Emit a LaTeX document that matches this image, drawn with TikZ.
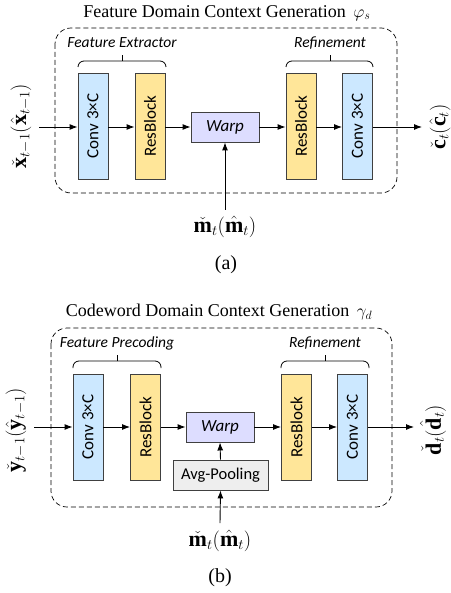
\documentclass[tikz,border=0pt]{standalone}
\usepackage{fontspec}
\usepackage{amsmath}
\setmainfont{Liberation Serif}
\newfontfamily\boxfont{Carlito}
\usetikzlibrary{arrows.meta}
\definecolor{convblue}{HTML}{CCE8FF}
\definecolor{resyellow}{HTML}{FFE699}
\definecolor{warplav}{HTML}{DDDDFF}
\definecolor{poolgray}{HTML}{EEEEEE}
\definecolor{edge}{HTML}{404040}
\tikzset{
  block/.style={draw=edge, line width=0.9pt, minimum width=30pt, minimum height=106pt,
    inner sep=0pt, font=\boxfont\fontsize{17}{19}\selectfont},
  convbox/.style={block, fill=convblue},
  resbox/.style={block, fill=resyellow},
  warpbox/.style={draw=edge, line width=0.9pt, fill=warplav, minimum width=68pt,
    minimum height=30pt, inner sep=0pt, font=\boxfont\itshape\fontsize{17}{19}\selectfont},
  poolbox/.style={draw=edge, line width=0.9pt, fill=poolgray, minimum width=95pt,
    minimum height=30pt, inner sep=0pt, font=\boxfont\fontsize{16.5}{19}\selectfont},
  group/.style={draw, dash pattern=on 5pt off 3pt, line width=0.7pt, rounded corners=16pt},
  grouplabel/.style={font=\boxfont\itshape\fontsize{15.5}{17}\selectfont, inner sep=0pt},
  flow/.style={line width=0.9pt, -{Latex[length=8pt,width=6pt]}},
  brace/.style={line width=0.8pt, rounded corners=6pt},
  title/.style={font=\fontsize{18}{21}\selectfont, inner sep=0pt},
  caption/.style={font=\fontsize{20}{23}\selectfont, inner sep=0pt},
  mathlbl/.style={font=\fontsize{22}{25}\selectfont, inner sep=0pt},
}
\begin{document}
\begin{tikzpicture}[x=1pt, y=-1pt]
\useasboundingbox (0,0) rectangle (450,593);

% ---------- (a) feature domain ----------
\node[title] (ta) at (227,13) {Feature Domain Context Generation \,$\varphi_s$};
\draw[group] (55,28) rectangle (397,193);
\node[grouplabel] (fe) at (122,43) {Feature Extractor};
\node[grouplabel] (ra) at (330,43) {Refinement};
\draw[brace] (78,67) -- (78,61) -- (166,61) -- (166,67);
\draw[line width=0.8pt] (122,61) -- (122,55);
\draw[brace] (286,67) -- (286,61) -- (373,61) -- (373,67);
\draw[line width=0.8pt] (330,61) -- (330,55);

\node[convbox] (ca1) at (93,126) {\rotatebox{90}{Conv 3×C}};
\node[resbox] (ra1) at (150,126) {\rotatebox{90}{ResBlock}};
\node[warpbox] (wa) at (225,127) {Warp};
\node[resbox] (ra2) at (301,126) {\rotatebox{90}{ResBlock}};
\node[convbox] (ca2) at (357.5,126) {\rotatebox{90}{Conv 3×C}};

\coordinate (ina) at (39,127);
\coordinate (outa) at (422,127);
\node[mathlbl, rotate=90] (xl) at (21,126) {$\check{\mathbf{x}}_{t-1}(\hat{\mathbf{x}}_{t-1})$};
\node[mathlbl, rotate=90] (cl) at (440,127) {$\check{\mathbf{c}}_{t}(\hat{\mathbf{c}}_{t})$};
\node[mathlbl] (ma) at (225,227) {$\check{\mathbf{m}}_{t}(\hat{\mathbf{m}}_{t})$};
\coordinate (mina) at (225,210);

\draw[flow] (ina) -- (ca1.west |- ina);
\draw[flow] (ca1.east |- ina) -- (ra1.west |- ina);
\draw[flow] (ra1.east |- ina) -- (wa.west);
\draw[flow] (wa.east) -- (ra2.west |- ina);
\draw[flow] (ra2.east |- ina) -- (ca2.west |- ina);
\draw[flow] (ca2.east |- ina) -- (outa);
\draw[flow] (mina) -- (wa.south);
\node[caption] (capa) at (226,265) {(a)};

% ---------- (b) codeword domain ----------
\node[title] (tb) at (219,312) {Codeword Domain Context Generation \,$\gamma_d$};
\draw[group] (51,328) rectangle (392,507);
\node[grouplabel] (fp) at (117,343) {Feature Precoding};
\node[grouplabel] (rb) at (325,343) {Refinement};
\draw[brace] (73,368) -- (73,361) -- (161,361) -- (161,368);
\draw[line width=0.8pt] (117,361) -- (117,355);
\draw[brace] (281,368) -- (281,361) -- (369,361) -- (369,368);
\draw[line width=0.8pt] (325,361) -- (325,355);

\node[convbox] (cb1) at (88,427) {\rotatebox{90}{Conv 3×C}};
\node[resbox] (rb1) at (145.5,427) {\rotatebox{90}{ResBlock}};
\node[warpbox] (wb) at (220,427) {Warp};
\node[poolbox] (pb) at (220.5,475) {Avg-Pooling};
\node[resbox] (rb2) at (296.5,427) {\rotatebox{90}{ResBlock}};
\node[convbox] (cb2) at (352.5,427) {\rotatebox{90}{Conv 3×C}};

\coordinate (inb) at (34,427);
\coordinate (outb) at (414,427);
\node[mathlbl, rotate=90] (yl) at (16,430) {$\check{\mathbf{y}}_{t-1}(\hat{\mathbf{y}}_{t-1})$};
\node[mathlbl, rotate=90] (dl) at (433,430) {$\check{\mathbf{d}}_{t}(\hat{\mathbf{d}}_{t})$};
\node[mathlbl] (mb) at (220,541) {$\check{\mathbf{m}}_{t}(\hat{\mathbf{m}}_{t})$};
\coordinate (minb) at (220,523);

\draw[flow] (inb) -- (cb1.west |- inb);
\draw[flow] (cb1.east |- inb) -- (rb1.west |- inb);
\draw[flow] (rb1.east |- inb) -- (wb.west);
\draw[flow] (wb.east) -- (rb2.west |- inb);
\draw[flow] (rb2.east |- inb) -- (cb2.west |- inb);
\draw[flow] (cb2.east |- inb) -- (outb);
\draw[flow] (pb.north) -- (wb.south);
\draw[flow] (minb) -- (pb.south);
\node[caption] (capb) at (220,578) {(b)};
\end{tikzpicture}
\end{document}
